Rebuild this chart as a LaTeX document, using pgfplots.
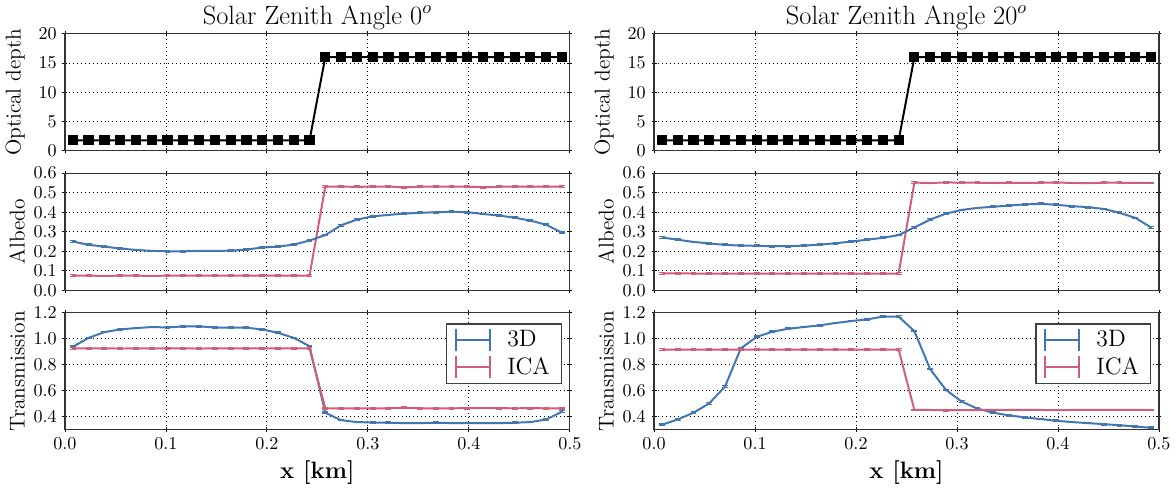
\documentclass[border=0pt]{standalone}
\usepackage{pgfplots}
\usepackage{pgfplotstable}
\pgfplotsset{compat=1.18}
\usepgfplotslibrary{groupplots}
\definecolor{cblue}{RGB}{66,118,176}
\definecolor{cred}{RGB}{208,94,120}
\pgfplotstableread{
x tau a0 ia0 t0 it0 a20 ia20 t20 it20
0.0078 1.8 0.250 0.075 0.937 0.925 0.271 0.087 0.338 0.916
0.0234 1.8 0.233 0.075 1.006 0.925 0.259 0.087 0.379 0.916
0.0391 1.8 0.224 0.074 1.050 0.925 0.248 0.086 0.431 0.916
0.0547 1.8 0.214 0.075 1.071 0.924 0.240 0.086 0.503 0.916
0.0703 1.8 0.207 0.075 1.081 0.925 0.233 0.086 0.632 0.916
0.0859 1.8 0.202 0.074 1.089 0.925 0.229 0.086 0.924 0.916
0.1016 1.8 0.200 0.075 1.086 0.925 0.228 0.086 1.014 0.916
0.1172 1.8 0.200 0.075 1.094 0.925 0.226 0.086 1.053 0.916
0.1328 1.8 0.202 0.075 1.094 0.924 0.226 0.085 1.076 0.916
0.1484 1.8 0.202 0.075 1.086 0.925 0.229 0.086 1.089 0.916
0.1641 1.8 0.203 0.075 1.084 0.925 0.234 0.086 1.102 0.916
0.1797 1.8 0.209 0.075 1.084 0.925 0.241 0.086 1.120 0.916
0.1953 1.8 0.219 0.075 1.071 0.925 0.250 0.086 1.135 0.916
0.2109 1.8 0.224 0.075 1.045 0.925 0.259 0.086 1.148 0.916
0.2266 1.8 0.234 0.075 1.006 0.925 0.269 0.086 1.169 0.916
0.2422 1.8 0.255 0.075 0.942 0.925 0.283 0.086 1.169 0.916
0.2578 16 0.283 0.531 0.431 0.465 0.322 0.552 1.058 0.452
0.2734 16 0.333 0.531 0.374 0.465 0.362 0.549 0.766 0.452
0.2891 16 0.362 0.530 0.359 0.465 0.393 0.553 0.606 0.450
0.3047 16 0.379 0.531 0.356 0.465 0.412 0.551 0.516 0.451
0.3203 16 0.386 0.532 0.354 0.465 0.422 0.551 0.462 0.452
0.3359 16 0.393 0.527 0.351 0.469 0.428 0.550 0.431 0.452
0.3516 16 0.397 0.531 0.351 0.465 0.434 0.551 0.410 0.452
0.3672 16 0.400 0.531 0.354 0.465 0.440 0.550 0.395 0.452
0.3828 16 0.403 0.531 0.351 0.465 0.443 0.551 0.382 0.452
0.3984 16 0.400 0.531 0.351 0.466 0.438 0.552 0.369 0.451
0.4141 16 0.391 0.528 0.351 0.467 0.431 0.550 0.359 0.452
0.4297 16 0.383 0.531 0.351 0.466 0.426 0.549 0.351 0.452
0.4453 16 0.372 0.531 0.354 0.465 0.417 0.551 0.343 0.452
0.4609 16 0.357 0.531 0.359 0.466 0.397 0.551 0.335 0.452
0.4766 16 0.336 0.531 0.379 0.465 0.371 0.550 0.325 0.452
0.4922 16 0.295 0.531 0.439 0.465 0.322 0.550 0.315 0.452
}\data
\pgfplotsset{
  errleg/.style={legend image code/.code={
    \draw[##1,mark=none,line width=1.3pt] (0cm,0cm) -- (0.72cm,0cm);
    \draw[##1,mark=none,line width=1.3pt] (0cm,-0.23cm) -- (0cm,0.23cm);
    \draw[##1,mark=none,line width=1.3pt] (0.72cm,-0.23cm) -- (0.72cm,0.23cm);}},
  eb/.style={error bars/.cd, y dir=both, y fixed=#1, error mark=|, error mark options={mark size=1.8pt, line width=0.7pt}},
}
\begin{document}
\begin{tikzpicture}
\begin{groupplot}[
  group style={group size=2 by 3, horizontal sep=51pt, vertical sep=13.5pt,
    x descriptions at=edge bottom},
  width=306pt, height=71pt, scale only axis,
  xmin=0, xmax=0.5,
  xtick={0,0.1,0.2,0.3,0.4,0.5},
  grid=major,
  major grid style={black, dotted, line width=0.5pt},
  axis line style={black!80, line width=0.7pt},
  tick style={black, line width=0.5pt},
  major tick length=3pt,
  tick pos=both,
  tick align=center,
  xticklabel style={/pgf/number format/.cd, fixed, fixed zerofill, precision=1},
  tick label style={font=\fontsize{11}{13}\selectfont},
  label style={font=\fontsize{13}{15}\selectfont},
  y label style={at={(axis description cs:-0.068,0.5)}, anchor=south},
  title style={font=\fontsize{16}{19}\selectfont, yshift=-7pt},
  every axis plot/.append style={line width=1.2pt},
  legend style={draw=black!75, line width=1pt, font=\Large, at={(0.985,0.91)}, anchor=north east,
    row sep=1pt, column sep=8pt, inner xsep=5pt, inner ysep=2pt, cells={anchor=west}},
]
% Row 1
\nextgroupplot[title={Solar Zenith Angle 0$^o$}, ylabel={Optical depth}, ymin=0, ymax=20, ytick={0,5,10,15,20}]
\addplot[black, mark=square*, mark size=2.5pt] table[x=x, y=tau] {\data};
\nextgroupplot[title={Solar Zenith Angle 20$^o$}, ylabel={Optical depth}, ymin=0, ymax=20, ytick={0,5,10,15,20}]
\addplot[black, mark=square*, mark size=2.5pt] table[x=x, y=tau] {\data};
% Row 2
\nextgroupplot[ylabel={Albedo}, ymin=0, ymax=0.6, ytick={0,0.1,0.2,0.3,0.4,0.5,0.6},
  yticklabel style={/pgf/number format/.cd, fixed, fixed zerofill, precision=1}]
\addplot[cred, eb=0.004] table[x=x, y=ia0] {\data};
\addplot[cblue, eb=0.004] table[x=x, y=a0] {\data};
\nextgroupplot[ylabel={Albedo}, ymin=0, ymax=0.6, ytick={0,0.1,0.2,0.3,0.4,0.5,0.6},
  yticklabel style={/pgf/number format/.cd, fixed, fixed zerofill, precision=1}]
\addplot[cred, eb=0.004] table[x=x, y=ia20] {\data};
\addplot[cblue, eb=0.004] table[x=x, y=a20] {\data};
% Row 3
\nextgroupplot[ylabel={Transmission}, xlabel={\textbf{x [km]}}, xlabel style={font=\Large}, ymin=0.3, ymax=1.2, ytick={0.4,0.6,0.8,1.0,1.2},
  yticklabel style={/pgf/number format/.cd, fixed, fixed zerofill, precision=1}]
\addplot[cblue, errleg, eb=0.006] table[x=x, y=t0] {\data};
\addlegendentry{3D}
\addplot[cred, errleg, eb=0.006] table[x=x, y=it0] {\data};
\addlegendentry{ICA}
\nextgroupplot[ylabel={Transmission}, xlabel={\textbf{x [km]}}, xlabel style={font=\Large}, ymin=0.3, ymax=1.2, ytick={0.4,0.6,0.8,1.0,1.2},
  yticklabel style={/pgf/number format/.cd, fixed, fixed zerofill, precision=1}]
\addplot[cblue, errleg, eb=0.006] table[x=x, y=t20] {\data};
\addlegendentry{3D}
\addplot[cred, errleg, eb=0.006] table[x=x, y=it20] {\data};
\addlegendentry{ICA}
\end{groupplot}
\end{tikzpicture}
\end{document}
